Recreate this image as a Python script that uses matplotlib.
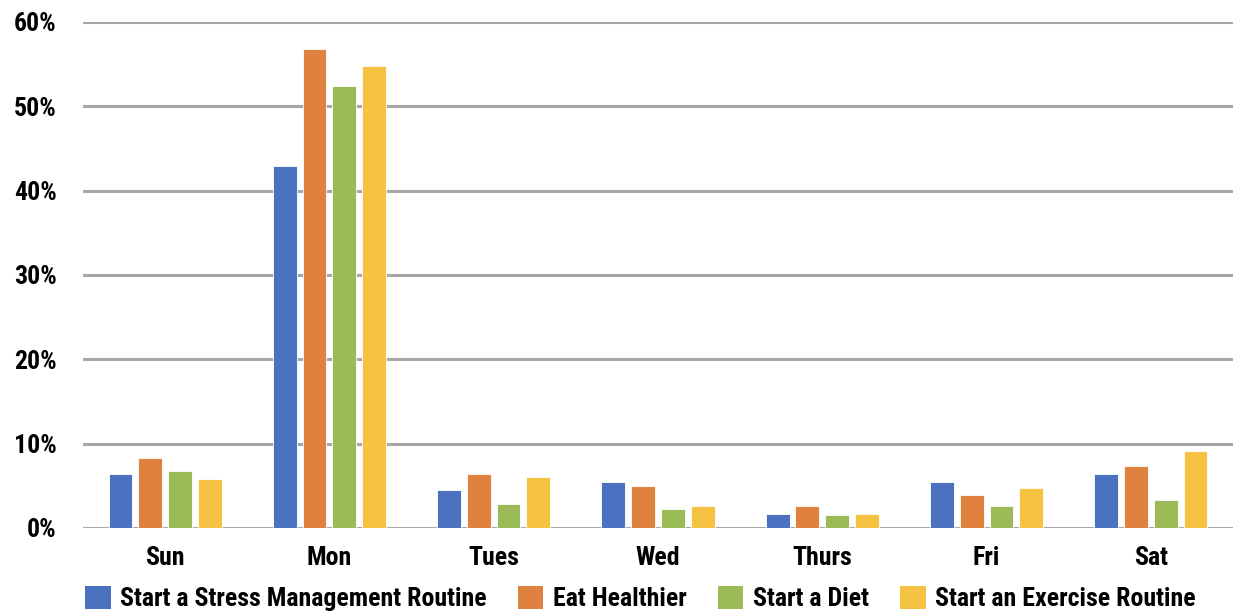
import numpy as np
import matplotlib.pyplot as plt
from matplotlib.patches import Patch
from matplotlib.ticker import PercentFormatter

days = ["Sun", "Mon", "Tues", "Wed", "Thurs", "Fri", "Sat"]
series = ["Start a Stress Management Routine", "Eat Healthier", "Start a Diet", "Start an Exercise Routine"]
stress = [6.4, 42.9, 4.5, 5.5, 1.7, 5.5, 6.4]
healthier = [8.3, 56.8, 6.4, 5.0, 2.6, 3.9, 7.4]
diet = [6.8, 52.4, 2.8, 2.3, 1.5, 2.6, 3.3]
exercise = [5.8, 54.8, 6.0, 2.6, 1.7, 4.7, 9.1]
colors = ["#4A72C0", "#E0823F", "#9BBB59", "#F5C242"]

plt.rcParams['font.family'] = ['Roboto Condensed', 'Archivo Narrow', 'Asap Condensed', 'DejaVu Sans']
plt.rcParams['font.weight'] = 'heavy'

fig = plt.figure(figsize=(12.33, 6.16), dpi=100)
ax = fig.add_axes([0.0673, 0.1429, 0.9327, 0.8214])

x = np.arange(len(days))
pitch = 0.181
width = 0.145
for i, vals in enumerate([stress, healthier, diet, exercise]):
    ax.bar(x + (i - 1.5) * pitch, vals, width, color=colors[i],
           edgecolor='white', linewidth=0.6, zorder=3)

ax.set_ylim(0, 60)
ax.set_xlim(-0.5, 6.5)
ax.set_yticks(np.arange(0, 61, 10))
ax.yaxis.set_major_formatter(PercentFormatter(decimals=0))
ax.set_xticks(x)
ax.set_xticklabels(days)
ax.grid(axis='y', color='#A6A6A6', linewidth=2.2, zorder=0)
for s in ax.spines.values():
    s.set_visible(False)
ax.tick_params(length=0, labelsize=18.6)
ax.tick_params(axis='y', pad=19)
ax.tick_params(axis='x', pad=13)

handles = [Patch(facecolor=c, edgecolor='none') for c in colors]
fig.legend(handles, series, loc='lower left', bbox_to_anchor=(0.05, -0.03), ncol=4,
           frameon=False, fontsize=18.6, handlelength=1.0, handleheight=1.0,
           handletextpad=0.36, columnspacing=1.2)

fig.savefig("out.png", dpi=100)
